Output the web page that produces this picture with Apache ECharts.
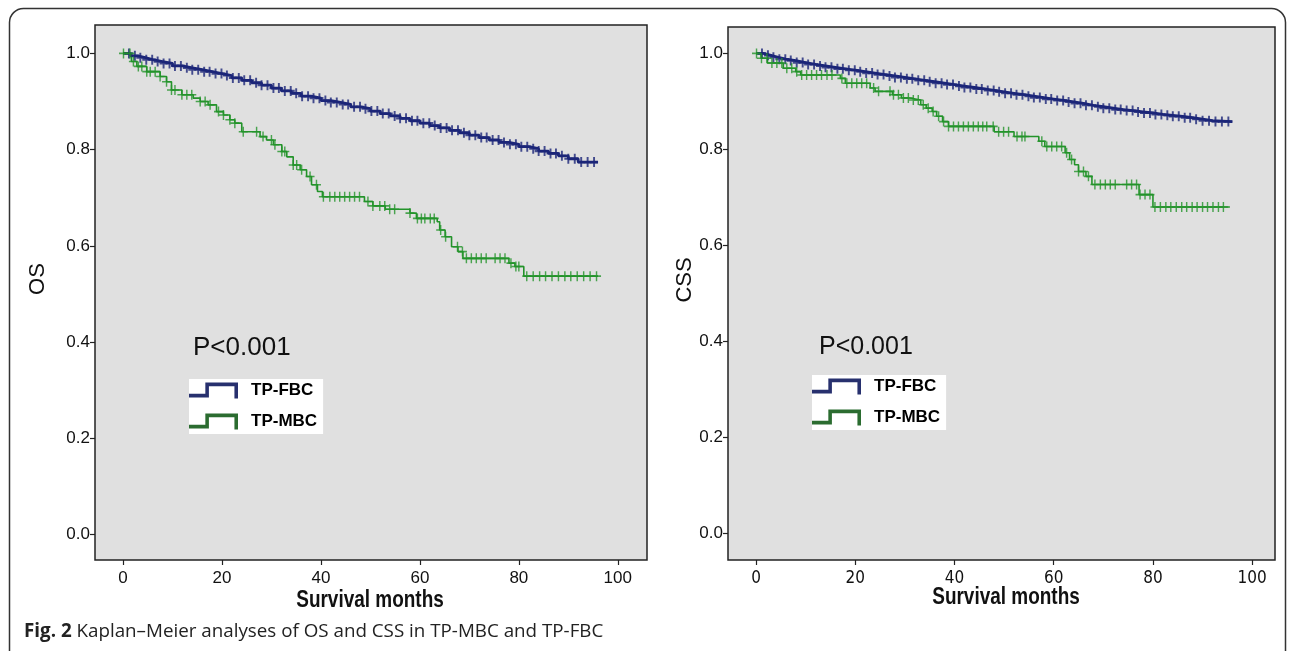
<!DOCTYPE html>
<html>
<head>
<meta charset="utf-8">
<script src="https://cdn.jsdelivr.net/npm/echarts@6.0.0/dist/echarts.min.js"></script>
<style>
html, body { margin: 0; padding: 0; background: #fff; }
#main { width: 1290px; height: 651px; }
</style>
</head>
<body>
<div id="main"></div>
<script>
/* 数据 */
var xTicks = [0, 20, 40, 60, 80, 100];
var yTicks = [0, 0.2, 0.4, 0.6, 0.8, 1.0];

// TP-FBC: event times shared by OS and CSS
var fbcTime = [0, 1.5, 3, 4.5, 6, 8, 10, 12, 14, 16, 18, 20, 22, 24, 26, 28, 30, 32, 34, 36, 38, 40, 42, 44, 46, 48, 50, 52, 54, 56, 58, 60, 62, 64, 66, 68, 70, 72, 74, 76, 78, 80, 82, 84, 86, 88, 90, 92, 96];
var osFbcSurv = [1.000, 0.995, 0.991, 0.987, 0.983, 0.979, 0.974, 0.970, 0.966, 0.962, 0.958, 0.954, 0.949, 0.944, 0.939, 0.934, 0.928, 0.922, 0.917, 0.911, 0.907, 0.902, 0.898, 0.894, 0.889, 0.885, 0.880, 0.875, 0.870, 0.865, 0.860, 0.855, 0.850, 0.845, 0.840, 0.835, 0.830, 0.825, 0.820, 0.815, 0.811, 0.806, 0.802, 0.797, 0.792, 0.787, 0.781, 0.774, 0.774];
var cssFbcSurv = [1.000, 0.996, 0.992, 0.988, 0.985, 0.981, 0.977, 0.974, 0.971, 0.968, 0.965, 0.962, 0.959, 0.956, 0.953, 0.950, 0.947, 0.944, 0.941, 0.938, 0.935, 0.932, 0.929, 0.926, 0.923, 0.920, 0.917, 0.914, 0.911, 0.908, 0.905, 0.902, 0.899, 0.896, 0.892, 0.889, 0.886, 0.883, 0.881, 0.878, 0.876, 0.873, 0.871, 0.869, 0.866, 0.863, 0.860, 0.858, 0.858];
var fbcCensor = [1.2, 2.4, 3.5, 4.7, 5.9, 7.0, 8.2, 9.4, 10.5, 11.7, 12.9, 14.0, 15.2, 16.4, 17.5, 18.7, 19.9, 21.0, 22.2, 23.4, 24.5, 25.7, 26.9, 28.0, 29.2, 30.4, 31.5, 32.7, 33.9, 35.0, 36.2, 37.4, 38.5, 39.7, 40.9, 42.0, 43.2, 44.4, 45.5, 46.7, 47.9, 49.0, 50.2, 51.4, 52.5, 53.7, 54.9, 56.0, 57.2, 58.4, 59.5, 60.7, 61.9, 63.0, 64.2, 65.4, 66.5, 67.7, 68.9, 70.0, 71.2, 72.4, 73.5, 74.7, 75.9, 77.0, 78.2, 79.4, 80.5, 81.7, 82.9, 84.0, 85.2, 86.4, 87.5, 88.7, 90.0, 91.3, 92.6, 93.9, 95.2];

// TP-MBC OS
var osMbcTime = [0, 1.7, 2.8, 4.8, 7.5, 8.8, 9.8, 11.9, 14.2, 15.6, 17.2, 18.9, 20.3, 21.6, 22.6, 24.0, 27.7, 29.0, 30.4, 32.1, 33.1, 34.4, 35.8, 37.1, 38.1, 39.3, 40.3, 48.8, 50.5, 53.0, 58.0, 59.3, 63.5, 64.0, 65.1, 66.4, 67.7, 68.7, 78.0, 79.2, 81.0, 96.0];
var osMbcSurv = [1.000, 0.983, 0.973, 0.962, 0.952, 0.941, 0.924, 0.914, 0.907, 0.900, 0.893, 0.879, 0.872, 0.862, 0.855, 0.837, 0.827, 0.820, 0.810, 0.796, 0.785, 0.768, 0.758, 0.744, 0.727, 0.713, 0.702, 0.692, 0.683, 0.676, 0.668, 0.657, 0.650, 0.633, 0.619, 0.598, 0.588, 0.574, 0.564, 0.557, 0.537, 0.537];
var osMbcCensor = [0.1, 1.4, 2.1, 3.1, 3.8, 4.8, 5.5, 6.5, 7.5, 8.8, 9.8, 10.5, 11.9, 12.9, 13.9, 15.6, 16.6, 17.6, 19.3, 20.3, 21.6, 22.6, 24.3, 27.0, 28.3, 30.0, 30.7, 32.1, 32.7, 34.4, 35.1, 36.1, 37.8, 39.1, 40.5, 41.8, 42.8, 43.8, 44.8, 45.8, 46.8, 47.8, 49.5, 50.5, 51.9, 52.9, 53.9, 54.9, 58.0, 59.5, 60.3, 61.0, 62.1, 62.9, 64.2, 65.2, 67.6, 68.6, 69.4, 70.4, 71.4, 72.4, 73.4, 75.2, 76.2, 77.2, 78.4, 79.4, 80.0, 81.6, 82.9, 84.2, 85.4, 86.7, 88.0, 89.3, 90.5, 91.8, 93.1, 94.4, 95.7];

// TP-MBC CSS
var cssMbcTime = [0, 1.0, 2.3, 5.5, 8.0, 9.0, 17.0, 18.0, 23.0, 24.0, 27.5, 29.3, 31.0, 33.2, 34.3, 35.5, 36.4, 37.6, 38.8, 48.0, 52.0, 57.0, 58.2, 62.3, 63.2, 64.2, 65.0, 66.5, 67.7, 77.2, 80.0, 95.5];
var cssMbcSurv = [1.000, 0.990, 0.980, 0.969, 0.962, 0.955, 0.948, 0.938, 0.928, 0.921, 0.914, 0.907, 0.903, 0.893, 0.886, 0.879, 0.869, 0.858, 0.848, 0.837, 0.827, 0.817, 0.806, 0.793, 0.779, 0.768, 0.754, 0.744, 0.727, 0.706, 0.680, 0.680];
var cssMbcCensor = [0.1, 1.1, 2.2, 3.2, 4.2, 5.2, 6.2, 7.2, 8.2, 9.2, 10.2, 11.2, 12.2, 13.2, 14.3, 15.3, 17.3, 18.3, 19.3, 20.3, 21.3, 22.3, 23.7, 24.7, 27.0, 27.7, 28.7, 29.7, 30.7, 31.7, 32.7, 33.7, 34.7, 35.7, 36.8, 37.8, 38.8, 39.8, 40.8, 41.8, 42.8, 43.8, 44.8, 45.7, 46.5, 47.8, 48.9, 49.9, 50.9, 52.6, 53.6, 54.2, 57.6, 58.6, 59.6, 60.6, 61.6, 62.6, 63.6, 65.0, 66.0, 67.0, 68.3, 69.4, 70.4, 71.4, 72.4, 74.7, 75.7, 76.7, 77.4, 78.4, 79.4, 80.4, 81.5, 82.6, 83.6, 84.7, 85.8, 86.8, 87.9, 88.9, 90.0, 91.0, 92.1, 93.2, 94.2];

var blue = '#1c2678';
var green = '#23932a';
var plusThin = 'path://M4.2,0H5.8V4.2H10V5.8H5.8V10H4.2V5.8H0V4.2H4.2Z';
var plusBold = 'path://M3.8,0H6.2V3.9H10V6.1H6.2V10H3.8V6.1H0V3.9H3.8Z';
var stepIcon = 'path://M0,11.5H16V0.5H48V16H44.5V4H19.5V15H0Z';
var baseFont = 'Liberation Sans, Arial, sans-serif';
var narrowFont = 'Liberation Sans Narrow, DejaVu Sans Condensed, Liberation Sans, sans-serif';

function pairs(t, s) {
  var out = [];
  for (var i = 0; i < t.length; i++) out.push([t[i], s[i]]);
  return out;
}
// 删失点的纵坐标取自阶梯函数
function survAt(t, s, x) {
  var v = s[0];
  for (var i = 0; i < t.length; i++) { if (t[i] <= x) v = s[i]; }
  return v;
}
function censorPts(t, s, c) {
  return c.map(function (x) { return [x, survAt(t, s, x)]; });
}

var chart = echarts.init(document.getElementById('main'), null, { renderer: 'canvas' });

function xAxisCfg(idx, min, max, labelFont) {
  return {
    gridIndex: idx, type: 'value', min: min, max: max, position: 'bottom',
    axisLine: { show: false, onZero: false },
    splitLine: { show: false },
    axisTick: { show: true, length: 5, customValues: xTicks, lineStyle: { color: '#222', width: 1.2 } },
    axisLabel: { customValues: xTicks, margin: 10, fontSize: 17, fontFamily: labelFont, color: '#111' }
  };
}
function yAxisCfg(idx, min, max) {
  return {
    gridIndex: idx, type: 'value', min: min, max: max, position: 'left',
    axisLine: { show: false, onZero: false },
    splitLine: { show: false },
    axisTick: { show: true, length: 5, customValues: yTicks, lineStyle: { color: '#222', width: 1.2 } },
    axisLabel: {
      customValues: yTicks, margin: 5, fontSize: 17, fontFamily: baseFont, color: '#111',
      formatter: function (v) { return v.toFixed(1); }
    }
  };
}
function stepSeries(name, idx, t, s, color, w) {
  return {
    name: name, type: 'line', step: 'end', xAxisIndex: idx, yAxisIndex: idx,
    data: pairs(t, s), showSymbol: false, symbol: 'none',
    lineStyle: { color: color, width: w }, itemStyle: { color: color },
    animation: false, silent: true
  };
}
function censorSeries(name, idx, t, s, c, color, icon, size) {
  return {
    name: name, type: 'scatter', xAxisIndex: idx, yAxisIndex: idx,
    data: censorPts(t, s, c), symbol: icon, symbolSize: size,
    itemStyle: { color: color }, animation: false, silent: true, z: 3
  };
}
function legendCfg(left, top) {
  return {
    data: [
      { name: 'TP-FBC', itemStyle: { color: '#27306e', borderWidth: 0 } },
      { name: 'TP-MBC', itemStyle: { color: '#2b6c30', borderWidth: 0 } }
    ],
    orient: 'vertical', left: left, top: top,
    backgroundColor: '#fff', padding: [3, 6, 4, 0],
    icon: stepIcon, itemWidth: 49, itemHeight: 16, itemGap: 14,
    selectedMode: false,
    textStyle: { fontSize: 17, fontWeight: 'bold', fontFamily: baseFont, color: '#000', padding: [0, 0, 0, 8] }
  };
}
function textAt(str, x, y, font, rot, sx) {
  return {
    type: 'text', x: x, y: y, rotation: rot || 0, scaleX: sx || 1, silent: true,
    style: { text: str, font: font, fill: '#111', align: 'center', verticalAlign: 'middle' }
  };
}

var option = {
  animation: false,
  grid: [
    { left: 95, top: 25, width: 552, height: 535, show: true, backgroundColor: '#e0e0e0', borderColor: '#222', borderWidth: 1.5 },
    { left: 728, top: 27, width: 547, height: 533, show: true, backgroundColor: '#e0e0e0', borderColor: '#222', borderWidth: 1.5 }
  ],
  xAxis: [
    xAxisCfg(0, -5.66, 105.9, baseFont),
    xAxisCfg(1, -5.65, 104.6, narrowFont)
  ],
  yAxis: [
    yAxisCfg(0, -0.053, 1.059),
    yAxisCfg(1, -0.055, 1.055)
  ],
  legend: [legendCfg(189, 379), legendCfg(812, 375)],
  series: [
    stepSeries('TP-FBC', 0, fbcTime, osFbcSurv, blue, 2.8),
    stepSeries('TP-MBC', 0, osMbcTime, osMbcSurv, green, 1.6),
    censorSeries('TP-FBC censored', 0, fbcTime, osFbcSurv, fbcCensor, blue, plusBold, [8, 10]),
    censorSeries('TP-MBC censored', 0, osMbcTime, osMbcSurv, osMbcCensor, green, plusThin, [9, 10]),
    stepSeries('TP-FBC', 1, fbcTime, cssFbcSurv, blue, 2.8),
    stepSeries('TP-MBC', 1, cssMbcTime, cssMbcSurv, green, 1.6),
    censorSeries('TP-FBC censored', 1, fbcTime, cssFbcSurv, fbcCensor, blue, plusBold, [8, 10]),
    censorSeries('TP-MBC censored', 1, cssMbcTime, cssMbcSurv, cssMbcCensor, green, plusThin, [9, 10])
  ],
  graphic: [
    {
      type: 'rect', silent: true, z: -10,
      shape: { x: 9.5, y: 8.5, width: 1276, height: 700, r: 14 },
      style: { fill: 'none', stroke: '#333', lineWidth: 1.5 }
    },
    {
      type: 'text', left: 24, top: 622, silent: true,
      style: {
        text: '{b|Fig. 2} Kaplan–Meier analyses of OS and CSS in TP-MBC and TP-FBC',
        font: '18.8px Open Sans, sans-serif', fill: '#222',
        rich: { b: { fontWeight: 'bold', fontSize: 18.8, fontFamily: 'Open Sans, sans-serif', fill: '#222' } }
      }
    },
    textAt('OS', 38, 279, '22px Liberation Sans, Arial, sans-serif', Math.PI / 2),
    textAt('CSS', 685, 280, '22px Liberation Sans, Arial, sans-serif', Math.PI / 2),
    textAt('Survival months', 370, 600, 'bold 24px Liberation Sans, Arial, sans-serif', 0, 0.79),
    textAt('Survival months', 1006, 597, 'bold 24px Liberation Sans, Arial, sans-serif', 0, 0.79),
    { type: 'text', x: 193, y: 348, silent: true,
      style: { text: 'P<0.001', font: '26px Liberation Sans, Arial, sans-serif', fill: '#111', verticalAlign: 'middle' } },
    { type: 'text', x: 819, y: 347, silent: true,
      style: { text: 'P<0.001', font: '25px Liberation Sans, Arial, sans-serif', fill: '#111', verticalAlign: 'middle' } }
  ]
};
chart.setOption(option);
</script>
</body>
</html>
